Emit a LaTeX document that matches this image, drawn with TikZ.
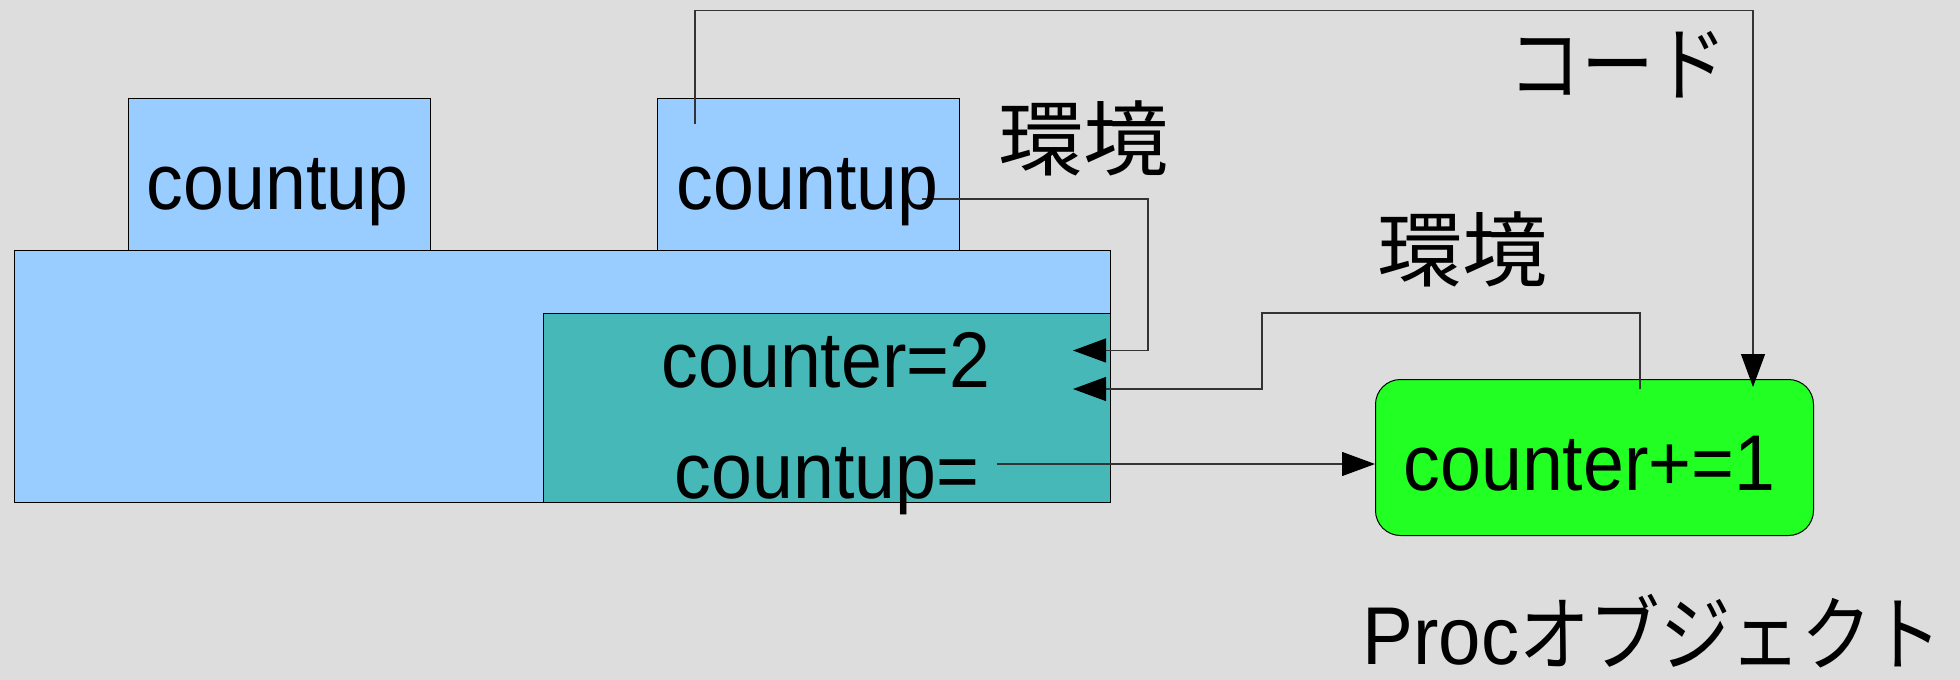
\documentclass[tikz,border=0pt]{standalone}
\usepackage{fontspec}
\setmainfont{Liberation Sans}[FakeStretch=0.93]
\newfontfamily\jp{Noto Sans CJK JP}[FakeStretch=1.04]
\newfontfamily\jpc{Noto Sans CJK JP}[FakeStretch=0.89]
\newfontfamily\jpk{Noto Sans CJK JP}[FakeStretch=0.86]
\usetikzlibrary{arrows.meta,calc}
\definecolor{bg}{HTML}{DDDDDD}
\definecolor{lblue}{HTML}{99CCFF}
\definecolor{teal2}{HTML}{47B8B8}
\definecolor{lgreen}{HTML}{22FF22}
\definecolor{wire}{HTML}{333333}
\tikzset{
  box/.style={draw=black, line width=0.5pt, inner sep=0pt, anchor=north west},
  conn/.style={draw=wire, line width=0.6pt},
  tip/.style={-{Triangle[length=16.5pt,width=12pt,color=black,fill=black]}},
  lbl/.style={inner sep=0pt, anchor=base, font=\fontsize{39.5}{40}\selectfont},
  jlbl/.style={inner sep=0pt, anchor=base west, font=\fontsize{41}{42}\selectfont\jp},
}
\begin{document}
\begin{tikzpicture}[x=0.5pt,y=-0.5pt]
\useasboundingbox (0,0) rectangle (1960,680);
\fill[bg] (0,0) rectangle (1960,680);
% boxes
\node[box, fill=lblue, minimum width=1096*0.5pt, minimum height=252*0.5pt] (outer) at (14,250) {};
\node[box, fill=lblue, minimum width=302.5*0.5pt, minimum height=151.5*0.5pt] (cu1) at (127.5,98) {};
\node[box, fill=lblue, minimum width=302*0.5pt, minimum height=151.5*0.5pt] (cu2) at (657,98) {};
\node[box, fill=teal2, minimum width=567*0.5pt, minimum height=189*0.5pt] (env) at (543,313) {};
\node[box, fill=lgreen, rounded corners=12.5pt, minimum width=438*0.5pt, minimum height=156*0.5pt] (proc) at (1375,379) {};
% connector coordinates
\coordinate (codeS) at (695,124);
\coordinate (codeT) at (1753,10.5);
\coordinate (codeE) at (1753,387);
\coordinate (e1S) at (922,199);
\coordinate (e1A) at (1148,199);
\coordinate (e1E) at (1073,350.5);
\coordinate (e2S) at (1640,389);
\coordinate (e2A) at (1640,313);
\coordinate (e2B) at (1262,313);
\coordinate (e2E) at (1073,389);
\coordinate (callS) at (997,464);
\coordinate (callE) at (1375,464);
% connectors
\draw[conn, tip] (codeS) |- (codeT) -- (codeE);
\draw[conn, tip] (e1S) -- (e1A) |- (e1E);
\draw[conn, tip] (e2S) -- (e2A) -- (e2B) |- (e2E);
\draw[conn, tip] (callS) -- (callE);
% texts
\node[lbl] (t1) at (277.5,209) {countup};
\node[lbl] (t2) at (807.5,209) {countup};
\node[lbl] (t3) at (826,387) {counter=2};
\node[lbl] (t4) at (827,498) {countup=};
\node[lbl] (t5) at (1589.5,490) {counter+=1};
\node[jlbl] (k1) at (998,169) {環境};
\node[jlbl] (k2) at (1377,280) {環境};
\node[jlbl, font=\fontsize{41}{42}\selectfont\jpc] (k3) at (1508,94) {コード};
\node[inner sep=0pt, anchor=base west, font=\fontsize{41}{42}\selectfont] (k4) at (1362,664) {Proc{\jpk オブジェクト}};
\end{tikzpicture}
\end{document}
